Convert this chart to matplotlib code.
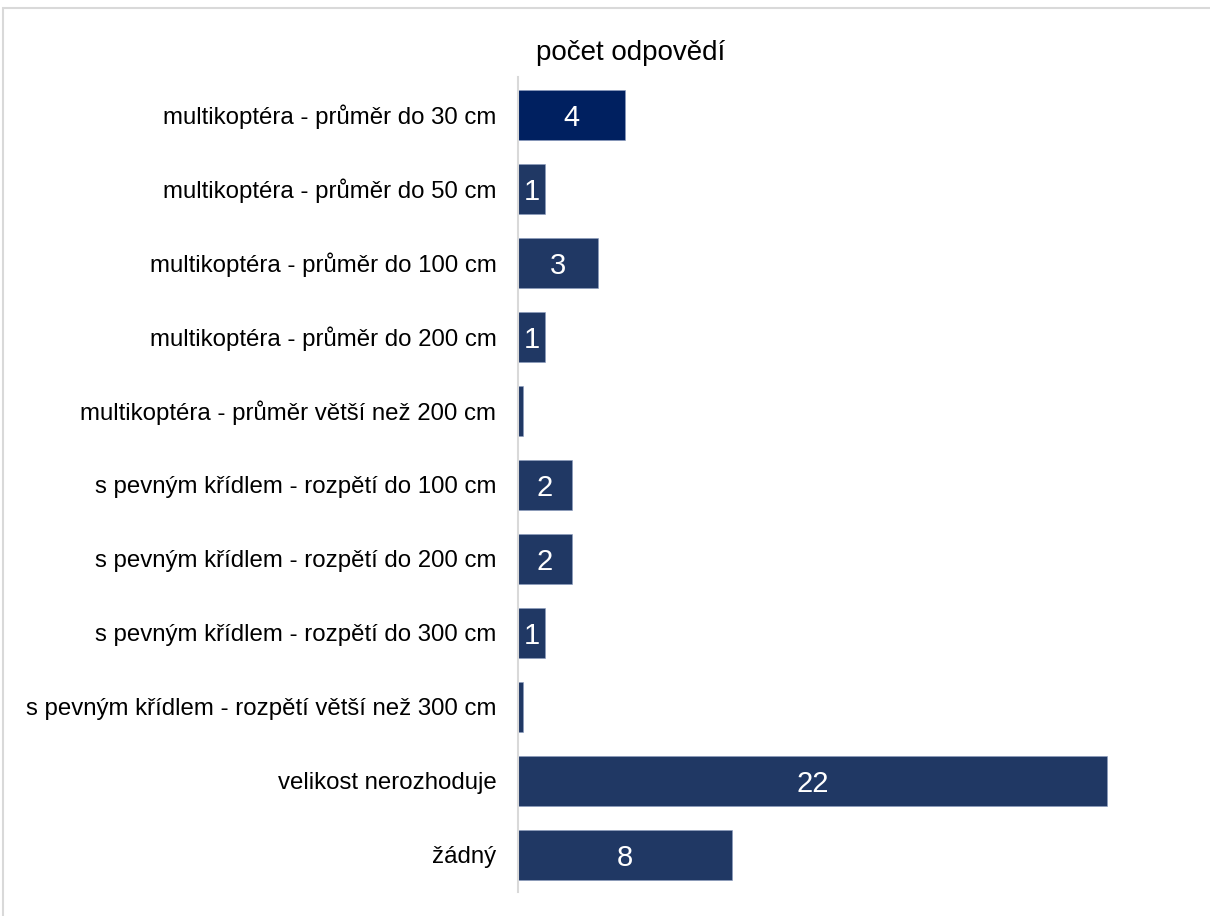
import matplotlib
matplotlib.use("Agg")
import matplotlib.pyplot as plt
from matplotlib.patches import Rectangle

plt.rcParams['font.family'] = ['Liberation Sans', 'DejaVu Sans']

categories = [
    "multikoptéra - průměr do 30 cm",
    "multikoptéra - průměr do 50 cm",
    "multikoptéra - průměr do 100 cm",
    "multikoptéra - průměr do 200 cm",
    "multikoptéra - průměr větší než 200 cm",
    "s pevným křídlem - rozpětí do 100 cm",
    "s pevným křídlem - rozpětí do 200 cm",
    "s pevným křídlem - rozpětí do 300 cm",
    "s pevným křídlem - rozpětí větší než 300 cm",
    "velikost nerozhoduje",
    "žádný",
]
values = [4, 1, 3, 1, 0.2, 2, 2, 1, 0.2, 22, 8]
title = "počet odpovědí"

W, H = 1210, 916
fig = plt.figure(figsize=(W / 100, H / 100), dpi=100)

# light frame around the chart area
fig.patches.append(Rectangle((3 / W, -0.1), 1.2, 1 - 8 / H + 0.1,
                             transform=fig.transFigure, fill=False,
                             edgecolor="#D9D9D9", linewidth=1.5))

ax_left, ax_right = 518 / W, 1160 / W
ax_top, ax_bottom = 1 - 77.5 / H, 1 - 892 / H
ax = fig.add_axes([ax_left, ax_bottom, ax_right - ax_left, ax_top - ax_bottom])

colors = ["#002060"] + ["#203864"] * (len(values) - 1)
ypos = list(range(len(categories)))
bars = ax.barh(ypos, values, height=0.675, color=colors,
               edgecolor="#8A9BBE", linewidth=0.4)

for b, v in zip(bars, values):
    if v >= 1:
        ax.text(b.get_x() + b.get_width() / 2, b.get_y() + b.get_height() / 2,
                f"{v:g}", color="white", ha="center", va="center_baseline",
                fontsize=21)

ax.set_ylim(len(categories) - 0.5, -0.5)
ax.set_xlim(0, 24)
ax.set_yticks(ypos)
ax.set_yticklabels(categories, fontsize=17.3)
ax.tick_params(axis="y", length=0, pad=15.5)
ax.set_xticks([])
for s in ["top", "right", "bottom"]:
    ax.spines[s].set_visible(False)
ax.spines["left"].set_color("#D9D9D9")
ax.spines["left"].set_linewidth(1.5)

fig.text(631 / W, 1 - 53 / H, title, ha="center", va="center", fontsize=20)

fig.savefig("out.png", dpi=100, facecolor="white")
